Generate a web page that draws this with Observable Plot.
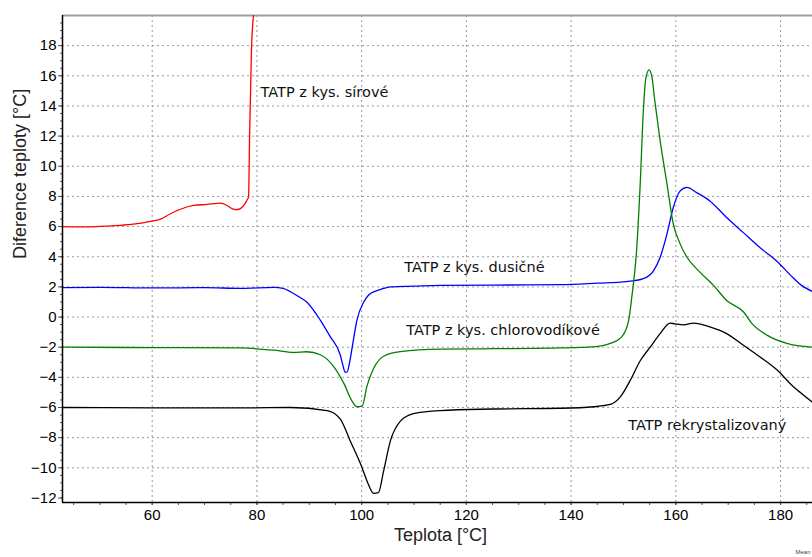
<!DOCTYPE html>
<html>
<head>
<meta charset="utf-8">
<script src="https://cdn.jsdelivr.net/npm/d3@7"></script>
<script src="https://cdn.jsdelivr.net/npm/@observablehq/plot@0.6"></script>
<style>
  html, body { margin: 0; padding: 0; background: #fff; }
  #chart { width: 812px; height: 557px; }
</style>
</head>
<body>
<div id="chart"></div>
<script>
// Temperature [°C], temperature difference [°C]
const sirove = [
  [43, 6.0], [48, 5.98], [52, 6.05], [56, 6.15], [59.7, 6.35], [61.6, 6.5], [63.5, 6.85],
  [65.4, 7.15], [67.9, 7.4], [70.5, 7.47], [73.0, 7.55], [74.3, 7.4], [75.2, 7.2],
  [75.9, 7.12], [76.6, 7.15], [77.2, 7.3], [77.7, 7.5], [78.1, 7.75], [78.4, 7.95],
  [78.6, 12.0], [78.95, 17.6], [79.4, 20.2]
];
const dusicne = [
  [43, 1.95], [50, 1.97], [60, 1.93], [70, 1.95], [77, 1.9], [83.2, 1.97], [85, 1.9],
  [86.4, 1.68], [88, 1.35], [89.5, 1.0], [92.1, -0.2], [94.0, -1.3], [95.9, -2.5],
  [96.5, -3.3], [96.8, -3.65], [97.2, -3.65], [97.7, -3.0], [98.2, -2.0], [99.1, -0.2],
  [100.4, 1.0], [101.3, 1.45], [102.3, 1.67], [104, 1.88], [105.5, 2.0], [110, 2.05],
  [115, 2.1], [125, 2.12], [138, 2.15], [145, 2.25], [150.6, 2.35], [153.8, 2.55],
  [155.7, 3.05], [157, 3.95], [158.3, 5.5], [159.5, 7.25], [160.8, 8.35], [162.1, 8.6],
  [164, 8.25], [166.5, 7.7], [169.7, 6.6], [172.9, 5.6], [176.1, 4.6], [179.3, 3.7],
  [182.4, 2.6], [184, 2.1], [186.1, 1.7]
];
const chlorovodikove = [
  [43, -2.0], [55, -2.02], [65, -2.03], [77, -2.05], [83.2, -2.2], [87, -2.35], [89.5, -2.3],
  [92.1, -2.5], [94.7, -3.3], [96.6, -4.4], [98.2, -5.6], [99.1, -5.95], [100.1, -5.9],
  [101, -4.6], [102.3, -3.4], [104.2, -2.6], [107.4, -2.3], [115, -2.13], [125, -2.1],
  [138, -2.05], [144.2, -1.98], [147.5, -1.75], [149.7, -1.3], [151, -0.2], [151.6, 1.35],
  [152.5, 4.4], [153.2, 8.85], [153.8, 13.7], [154.3, 15.9], [154.9, 16.4], [155.4, 16.0],
  [156, 14.3], [157, 11.7], [158.3, 8.85], [159.5, 6.2], [160.8, 4.87], [162.1, 3.98],
  [164.6, 2.98], [167.2, 2.1], [169.7, 1.1], [172.9, 0.35], [174.5, -0.42], [177.4, -1.2],
  [181.2, -1.75], [186.1, -2.0]
];
const rekrystalizovany = [
  [43, -6.0], [60, -6.02], [77, -6.03], [86.4, -6.0], [93.4, -6.2], [95.9, -6.75],
  [97.8, -8.2], [99.8, -9.75], [101, -10.85], [102.3, -11.7], [103.2, -11.65], [104.2, -10.2],
  [105.5, -8.2], [107.4, -6.9], [109.9, -6.4], [115, -6.2], [125, -6.1], [138, -6.05],
  [144.3, -5.95], [147.5, -5.8], [149.4, -5.3], [151.3, -4.2], [153.2, -2.9], [155.1, -2.0],
  [157, -1.1], [158.9, -0.4], [159.8, -0.45], [161.5, -0.52], [163.4, -0.4], [166.5, -0.65],
  [169.7, -1.1], [172.9, -1.87], [176.1, -2.65], [179.3, -3.5], [182.4, -4.6], [184.3, -5.15],
  [186.1, -5.65]
];

const seriesColors = ["#ff0000", "#0000ff", "#008000", "#000000"];
const labels = [
  {t: 80.7, v: 14.93, text: "TATP z kys. sírové"},
  {t: 108.15, v: 3.28, text: "TATP z kys. dusičné"},
  {t: 108.5, v: -0.9, text: "TATP z kys. chlorovodíkové"},
  {t: 150.9, v: -7.19, text: "TATP rekrystalizovaný"}
];
const xTicks = [60, 80, 100, 120, 140, 160, 180];
const xMinor = d3.range(45, 186, 5);
const yTicks = d3.range(-12, 19, 2);
const yGrid = d3.range(-10, 19, 2);
const yMinor = d3.range(-12, 20, 0.5);
const xDomain = [42.87, 186.1];
const yDomain = [-12.3, 20];

const lineOpts = {x: d => d[0], y: d => d[1], strokeWidth: 1.3, clip: true, curve: "monotone-x"};

const chart = Plot.plot({
  width: 812,
  height: 557,
  marginLeft: 62,
  marginRight: 0,
  marginTop: 15,
  marginBottom: 55,
  style: {fontFamily: "'Liberation Sans', Arial, sans-serif", background: "#fff", overflow: "visible"},
  x: {domain: xDomain},
  y: {domain: yDomain},
  marks: [
    Plot.gridX(xTicks, {stroke: "#999", strokeOpacity: 1, strokeDasharray: "2,3"}),
    Plot.gridY(yGrid, {stroke: "#999", strokeOpacity: 1, strokeDasharray: "2,3"}),
    Plot.ruleY([yDomain[1]], {stroke: "#a0a0a0", strokeWidth: 2}),
    Plot.line(sirove, {...lineOpts, stroke: seriesColors[0]}),
    Plot.line(dusicne, {...lineOpts, stroke: seriesColors[1]}),
    Plot.line(chlorovodikove, {...lineOpts, stroke: seriesColors[2]}),
    Plot.line(rekrystalizovany, {...lineOpts, stroke: seriesColors[3]}),
    Plot.text(labels, {x: "t", y: "v", text: "text", textAnchor: "start",
      fontFamily: "'DejaVu Sans', Verdana, sans-serif", fontSize: 14.5, fill: "#111"}),
    Plot.axisX({ticks: xMinor, tickSize: 3, text: null, label: null, stroke: "#555"}),
    Plot.axisX({ticks: xTicks, tickSize: 3, tickPadding: 4, fontSize: 15, label: null, stroke: "#555"}),
    Plot.axisY({ticks: yMinor, tickSize: 2, text: null, label: null, stroke: "#555"}),
    Plot.axisY({ticks: yTicks, tickSize: 4, tickPadding: 2, fontSize: 15, label: null, stroke: "#555"}),
    Plot.ruleX([xDomain[0]], {stroke: "#000", strokeWidth: 1.5}),
    Plot.ruleY([yDomain[0]], {stroke: "#000", strokeWidth: 1.5}),
    Plot.text(["Diference teploty [°C]"], {frameAnchor: "left", dx: -42, rotate: -90,
      fontSize: 18, fill: "#222"}),
    Plot.text(["Teplota [°C]"], {frameAnchor: "bottom", dx: 3, dy: 38, fontSize: 18, fill: "#222"}),
    Plot.text(["Mean"], {frameAnchor: "bottom-right", dx: -17, dy: 51, textAnchor: "start",
      fontSize: 6, fill: "#444"})
  ]
});
document.getElementById("chart").appendChild(chart);
</script>
</body>
</html>
